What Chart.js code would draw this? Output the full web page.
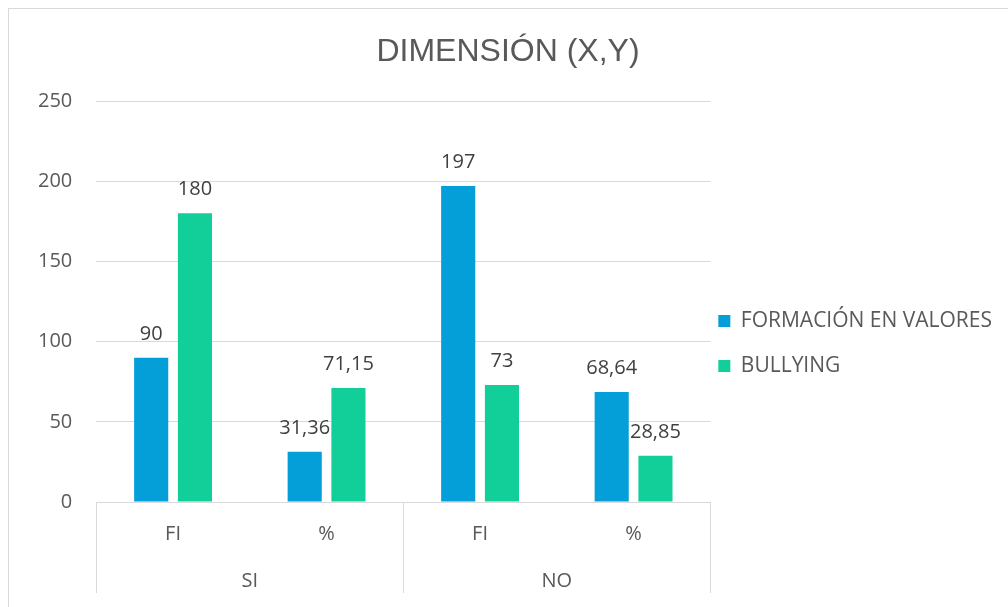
<!DOCTYPE html>
<html><head><meta charset="utf-8">
<script src="https://cdn.jsdelivr.net/npm/chart.js@4.4.1/dist/chart.umd.min.js"></script>
<style>
html,body{margin:0;padding:0;background:#fff;overflow:hidden}
#wrap{position:relative;width:1008px;height:607px}
#frame{position:absolute;left:8px;top:8px;width:1100px;height:700px;border:1px solid #d9d9d9;box-sizing:border-box}
canvas{position:absolute;left:0;top:0}
</style></head><body>
<div id="wrap"><div id="frame"></div><canvas id="c" width="1008" height="607"></canvas></div>
<script>
const chartTitle = 'DIMENSIÓN (X,Y)';
const subCategories = ['FI', '%', 'FI', '%'];
const groups = ['SI', 'NO'];
const seriesNames = ['FORMACIÓN EN VALORES', 'BULLYING'];
const formacionValues = [90, 31.36, 197, 68.64];
const bullyingValues = [180, 71.15, 73, 28.85];
const yMin = 0, yMax = 250, yStep = 50;

const BLUE = '#049fd9';
const GREEN = '#12cf9a';
const FONT = '"Open Sans", "Liberation Sans", sans-serif';

const fmt = v => String(v).replace('.', ',');

const valueLabels = {
  id: 'valueLabels',
  afterDatasetsDraw(chart) {
    const ctx = chart.ctx;
    ctx.save();
    ctx.font = '20px ' + FONT;
    ctx.fillStyle = '#404040';
    ctx.textAlign = 'center';
    ctx.textBaseline = 'alphabetic';
    chart.data.datasets.forEach((ds, i) => {
      const meta = chart.getDatasetMeta(i);
      meta.data.forEach((el, j) => {
        ctx.fillText(fmt(ds.data[j]), el.x, el.y - 18);
      });
    });
    ctx.restore();
  }
};

const groupSeparators = {
  id: 'groupSeparators',
  afterDraw(chart) {
    const {ctx, chartArea} = chart;
    const x2 = chart.scales.x2;
    const xs = [chartArea.left];
    for (let i = 0; i < groups.length - 1; i++) {
      xs.push((x2.getPixelForValue(i) + x2.getPixelForValue(i + 1)) / 2);
    }
    xs.push(chartArea.right);
    ctx.save();
    ctx.strokeStyle = '#d9d9d9';
    ctx.lineWidth = 1;
    ctx.beginPath();
    xs.forEach(x => {
      const px = Math.round(x) + 0.5;
      ctx.moveTo(px, chartArea.bottom);
      ctx.lineTo(px, x2.bottom - 3);
    });
    ctx.stroke();
    ctx.restore();
  }
};

new Chart(document.getElementById('c'), {
  type: 'bar',
  data: {
    labels: subCategories,
    datasets: [
      {label: seriesNames[0], data: formacionValues, backgroundColor: BLUE, borderWidth: 0},
      {label: seriesNames[1], data: bullyingValues, backgroundColor: GREEN, borderWidth: 0}
    ]
  },
  options: {
    responsive: false,
    devicePixelRatio: 1,
    animation: false,
    categoryPercentage: 0.57,
    barPercentage: 0.78,
    layout: {padding: {left: 14, right: 6, top: 10, bottom: 11}},
    plugins: {
      tooltip: {enabled: false},
      title: {
        display: true,
        text: chartTitle,
        color: '#595959',
        font: {family: '"Liberation Sans", Arial, sans-serif', size: 32, weight: 'normal', lineHeight: 1.2},
        padding: {top: 23, bottom: 29.6}
      },
      legend: {
        display: true,
        position: 'right',
        align: 'center',
        maxWidth: 320,
        title: {display: true, text: ' ', font: {size: 10, lineHeight: 1}, padding: {top: 87, bottom: 0}},
        labels: {
          color: '#595959',
          font: {family: FONT, size: 21, lineHeight: 37 / 21},
          boxWidth: 12,
          boxHeight: 12,
          padding: 8,
          generateLabels: chart => Chart.defaults.plugins.legend.labels.generateLabels(chart).map(l => Object.assign(l, {text: [l.text], lineWidth: 0}))
        }
      }
    },
    scales: {
      x: {
        type: 'category',
        offset: true,
        grid: {display: false, drawTicks: false},
        border: {display: false},
        ticks: {color: '#595959', font: {family: FONT, size: 20, lineHeight: 1.2}, padding: 20, maxRotation: 0}
      },
      x2: {
        type: 'category',
        labels: groups,
        position: 'bottom',
        offset: true,
        grid: {display: false, drawTicks: false},
        border: {display: false},
        ticks: {color: '#595959', font: {family: FONT, size: 20, lineHeight: 1.2}, padding: 3, maxRotation: 0}
      },
      y: {
        min: yMin,
        max: yMax,
        ticks: {stepSize: yStep, color: '#595959', font: {family: FONT, size: 20}, padding: 24},
        grid: {color: '#d9d9d9', drawTicks: false, lineWidth: 1},
        border: {display: false}
      }
    }
  },
  plugins: [valueLabels, groupSeparators]
});
</script>
</body></html>
